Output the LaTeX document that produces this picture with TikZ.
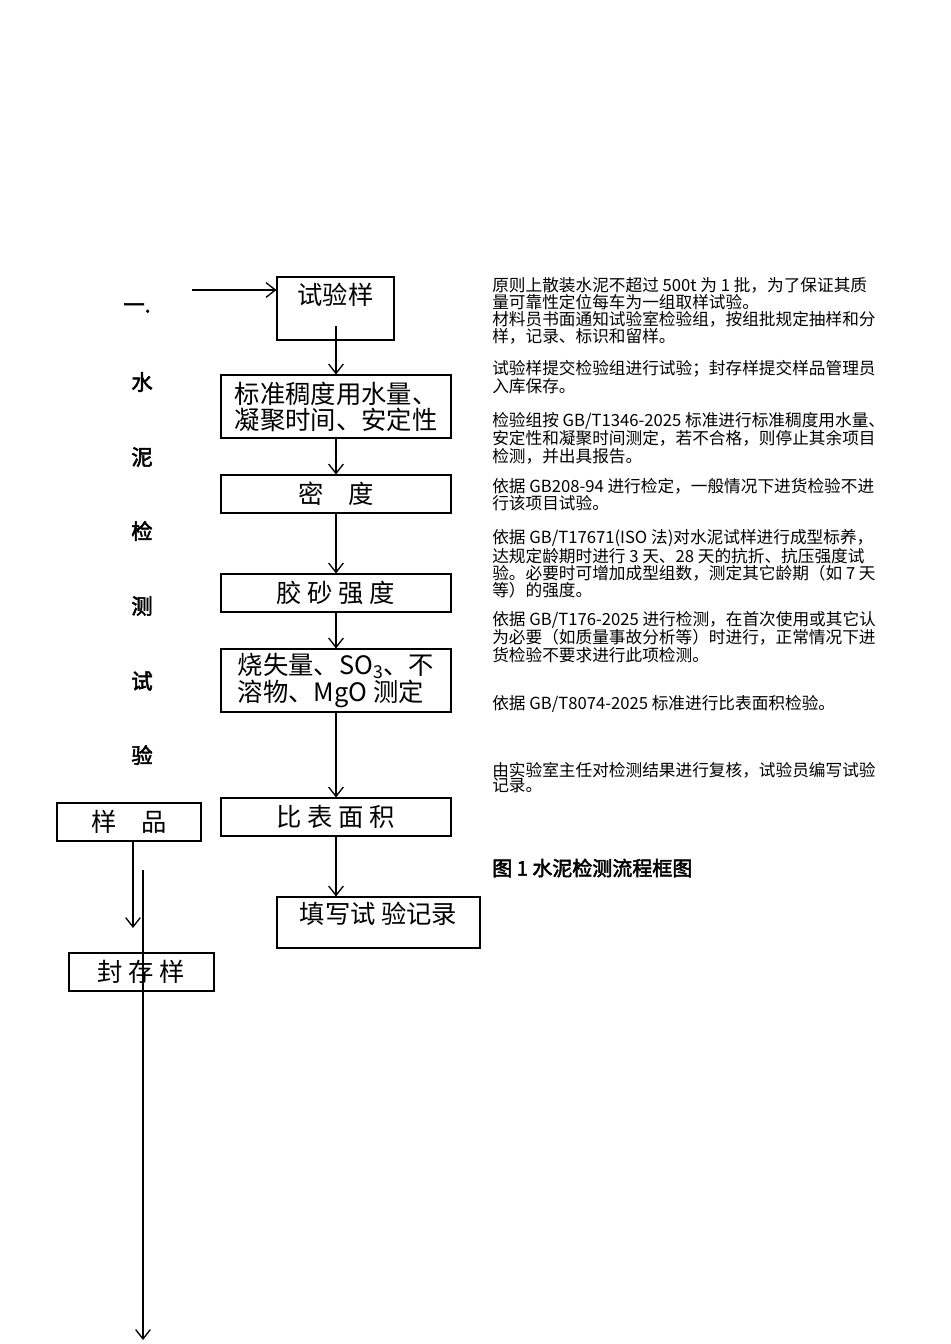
\documentclass[tikz,border=0pt]{standalone}
\usepackage{fontspec}
\setmainfont{Noto Sans CJK SC}
\newfontfamily\cjkb[FakeBold=2.5]{Noto Sans CJK SC}
\usetikzlibrary{arrows.meta}
\begin{document}
\begin{tikzpicture}[x=0.75pt,y=-0.75pt,
  bx/.style={draw,line width=0.8pt,inner sep=0pt,font=\fontsize{19}{19.5}\selectfont,align=left},
  arr/.style={line width=0.8pt,-{Straight Barb[length=7pt,width=11pt,line width=1pt]}},
  ttl/.style={font=\cjkb\fontsize{16}{16}\selectfont},
  note/.style={anchor=north west,inner sep=0pt,align=left,font=\fontsize{12.5}{11.6}\selectfont}]
\useasboundingbox (0,0) rectangle (950,1344);
% boxes
\node[bx,minimum width=87.75pt,minimum height=47.25pt,text depth=22pt,align=center] (b1) at (335.5,308.5) {试验样};
\node[bx,minimum width=172.5pt,minimum height=47.25pt] (b2) at (336,406.5) {标准稠度用水量、\\凝聚时间、安定性};
\node[bx,minimum width=172.5pt,minimum height=28.5pt] (b3) at (336,494) {密\quad 度};
\node[bx,minimum width=172.5pt,minimum height=28.5pt] (b4) at (336,593) {胶 砂 强 度};
\node[bx,minimum width=172.5pt,minimum height=47.25pt] (b5) at (336,680.5) {烧失量、SO\textsubscript{3}、不\\溶物、MgO 测定};
\node[bx,minimum width=172.5pt,minimum height=28.5pt] (b6) at (336,817) {比 表 面 积};
\node[bx,minimum width=152.25pt,minimum height=38.25pt,text depth=14pt,align=center] (b7) at (378.5,922.5) {填写试 验记录};
\node[bx,minimum width=108pt,minimum height=28.5pt] (s1) at (129,822) {样\quad 品};
\node[bx,minimum width=108.75pt,minimum height=28.5pt] (s2) at (141.5,972) {封 存 样};
% arrows
\coordinate (in) at (192,290);
\coordinate (b1in) at (336,326);
\draw[arr] (in) -- (b1.west |- in);
\draw[arr] (b1in) -- (b2.north);
\draw[arr] (b2.south) -- (b3.north);
\draw[arr] (b3.south) -- (b4.north);
\draw[arr] (b4.south) -- (b5.north);
\draw[arr] (b5.south) -- (b6.north);
\draw[arr] (b6.south) -- (b6.south |- b7.north);
\coordinate (sa) at (133,841);
\coordinate (sb) at (133,928);
\draw[arr] (sa) -- (sb);
\coordinate (la) at (143,870);
\coordinate (lb) at (143,1340);
\draw[arr] (la) -- (lb);
% left title
\node[ttl] (t0) at (137,308) {一.};
\node[ttl] (t1) at (142,382) {水};
\node[ttl] (t2) at (142,457) {泥};
\node[ttl] (t3) at (142,531) {检};
\node[ttl] (t4) at (142,606) {测};
\node[ttl] (t5) at (142,681) {试};
\node[ttl] (t6) at (142,755) {验};
% notes
\node[note] (n1) at (492,277) {原则上散装水泥不超过 500t 为 1 批，为了保证其质\\量可靠性定位每车为一组取样试验。\\材料员书面通知试验室检验组，按组批规定抽样和分\\样，记录、标识和留样。};
\node[note] (n2) at (492,360) {试验样提交检验组进行试验；封存样提交样品管理员\\入库保存。};
\node[note] (n3) at (492,412) {检验组按 GB/T1346-2025 标准进行标准稠度用水量、\\安定性和凝聚时间测定，若不合格，则停止其余项目\\检测，并出具报告。};
\node[note] (n4) at (492,478) {依据 GB208-94 进行检定，一般情况下进货检验不进\\行该项目试验。};
\node[note] (n5) at (492,529) {依据 GB/T17671(ISO 法)对水泥试样进行成型标养，\\达规定龄期时进行 3 天、28 天的抗折、抗压强度试\\验。必要时可增加成型组数，测定其它龄期（如 7 天\\等）的强度。};
\node[note] (n6) at (492,611) {依据 GB/T176-2025 进行检测，在首次使用或其它认\\为必要（如质量事故分析等）时进行，正常情况下进\\货检验不要求进行此项检测。};
\node[note] (n7) at (492,695) {依据 GB/T8074-2025 标准进行比表面积检验。};
\node[note] (n8) at (492,762) {由实验室主任对检测结果进行复核，试验员编写试验\\记录。};
\node[anchor=west,inner sep=0pt,font=\cjkb\fontsize{15}{15}\selectfont] (cap) at (492,868) {图 1 水泥检测流程框图};
\end{tikzpicture}
\end{document}
